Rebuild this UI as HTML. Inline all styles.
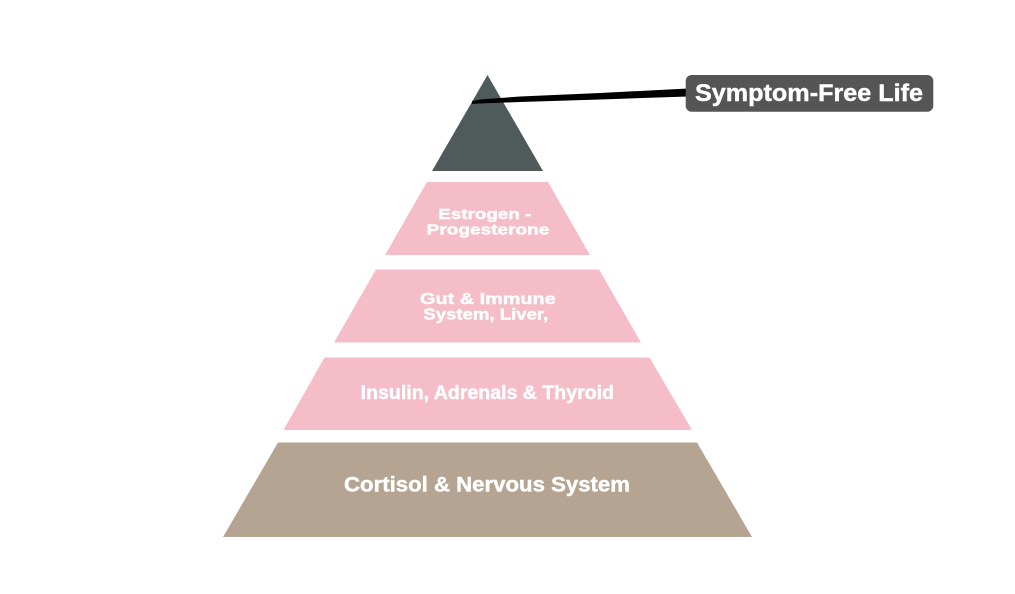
<!DOCTYPE html>
<html>
<head>
<meta charset="utf-8">
<style>
  html, body { margin: 0; padding: 0; background: #ffffff; }
  body { width: 1015px; height: 594px; overflow: hidden; }
  svg { display: block; }
  text { font-family: "Liberation Sans", Arial, sans-serif; font-weight: bold; fill: #ffffff; stroke: #ffffff; stroke-width: 0.45; }
</style>
</head>
<body>
<svg width="1015" height="594" viewBox="0 0 1015 594" xmlns="http://www.w3.org/2000/svg">
  <rect x="0" y="0" width="1015" height="594" fill="#ffffff"/>

  <!-- Top triangle -->
  <polygon points="487.5,75 543,171 432,171" fill="#4e5b5a"/>

  <!-- Tier 1 -->
  <polygon points="427,182 548,182 590,255 385,255" fill="#f4bdc8"/>
  <!-- Tier 2 -->
  <polygon points="376,269.5 599,269.5 641,342.5 334,342.5" fill="#f4bdc8"/>
  <!-- Tier 3 -->
  <polygon points="324.5,357.5 649.5,357.5 692,430 283.5,430" fill="#f4bdc8"/>
  <!-- Tier 4 -->
  <polygon points="278,442.5 697,442.5 752,537 223,537" fill="#b5a492"/>

  <!-- Connector line (tapered stroke) -->
  <polygon points="472,101 480,99.5 520,96.5 600,93 688,88.5 688,96.5 600,99.5 520,102 480,103.5 472,104" fill="#000000"/>

  <!-- Label box -->
  <rect x="685.7" y="75" width="247.6" height="36.7" rx="6" ry="6" fill="#555555"/>
  <text x="695" y="101" font-size="24.5" textLength="228" lengthAdjust="spacingAndGlyphs">Symptom-Free Life</text>

  <!-- Tier texts -->
  <text x="438.3" y="219" font-size="15" textLength="93" lengthAdjust="spacingAndGlyphs">Estrogen -</text>
  <text x="426.7" y="234.3" font-size="15" textLength="122.6" lengthAdjust="spacingAndGlyphs">Progesterone</text>

  <text x="420" y="304" font-size="15.5" textLength="135.7" lengthAdjust="spacingAndGlyphs">Gut &amp; Immune</text>
  <text x="423.3" y="319.3" font-size="15.5" textLength="125" lengthAdjust="spacingAndGlyphs">System, Liver,</text>

  <text x="360.7" y="399" font-size="19.5" textLength="253.3" lengthAdjust="spacingAndGlyphs">Insulin, Adrenals &amp; Thyroid</text>

  <text x="344" y="491.7" font-size="21" textLength="286" lengthAdjust="spacingAndGlyphs">Cortisol &amp; Nervous System</text>
</svg>
</body>
</html>
